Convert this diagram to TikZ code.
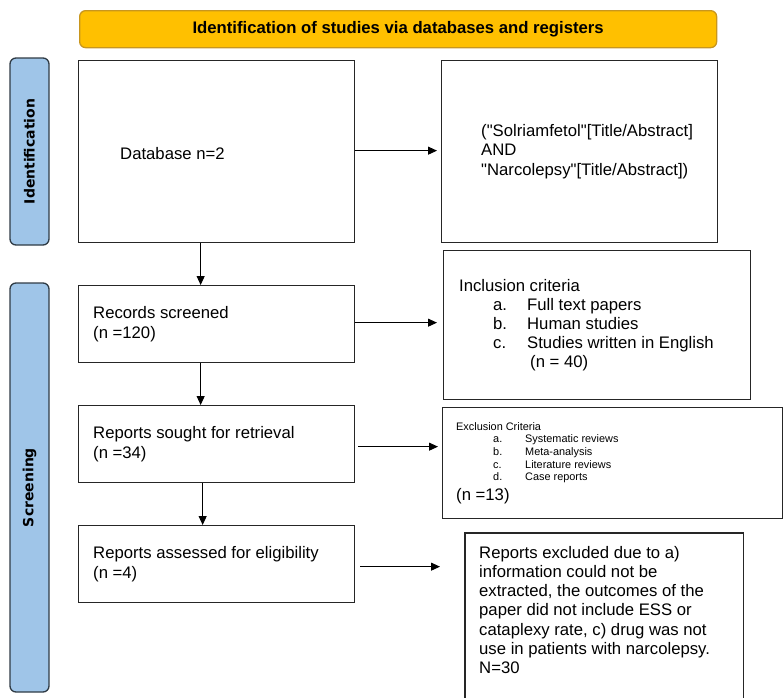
\documentclass[tikz,border=0pt]{standalone}
\usepackage{fontspec}
\setmainfont{Liberation Sans}[Ligatures=TeXOff]
\newfontfamily\sidefont{DejaVu Sans}
\usepackage{tikz}
\usetikzlibrary{arrows.meta}

\definecolor{headorange}{HTML}{FFC000}
\definecolor{headedge}{HTML}{C8961E}
\definecolor{sideblue}{HTML}{9FC5E8}
\definecolor{sideedge}{HTML}{2F3B45}

\newcommand{\boxfont}{\fontsize{16.7}{19.5}\selectfont}
\newcommand{\smallfont}{\fontsize{10.9}{12.6}\selectfont}

\begin{document}
\begin{tikzpicture}[x=1pt,y=-1pt,
  frame/.style={draw=black!85,line width=1.3pt,anchor=north west,inner sep=0pt},
  boxtext/.style={font=\boxfont,align=left,anchor=west,inner sep=0pt},
  sidebar/.style={draw=sideedge,fill=sideblue,line width=1.3pt,rounded corners=6pt,
    rotate=90,minimum height=39pt,inner sep=0pt,font=\sidefont\bfseries\fontsize{14}{16}\selectfont},
  flow/.style={-{Triangle[length=9pt,width=8pt]},line width=1pt},
]
\useasboundingbox (0,0) rectangle (784,697);

% heading bar
\node[draw=headedge,fill=headorange,line width=1.3pt,rounded corners=6pt,anchor=north west,
  minimum width=637pt,minimum height=37pt,font=\bfseries\fontsize{16.7}{19}\selectfont]
  (head) at (79,10) {Identification of studies via databases and registers};

% phases
\node[sidebar,minimum width=187pt] (ident) at (29.5,151.5) {Identification};
\node[sidebar,minimum width=409pt] (screen) at (29.5,487.5) {Screening};

% left column
\node[frame,minimum width=276pt,minimum height=182pt] (db) at (78,60) {};
\node[frame,minimum width=276pt,minimum height=77pt] (rs) at (78,285) {};
\node[frame,minimum width=276pt,minimum height=77pt] (rsr) at (78,405) {};
\node[frame,minimum width=276pt,minimum height=77pt] (rae) at (78,525) {};

\node[boxtext] (dbtext) at ([xshift=42pt,yshift=-2pt]db.west) {Database n=2};
\node[boxtext] (rstext) at ([xshift=15pt]rs.west) {Records screened\\(n =120)};
\node[boxtext] (rsrtext) at ([xshift=15pt]rsr.west) {Reports sought for retrieval\\(n =34)};
\node[boxtext] (raetext) at ([xshift=15pt]rae.west) {Reports assessed for eligibility\\(n =4)};

% right column
\node[frame,minimum width=276pt,minimum height=182pt] (query) at (441,60) {};
\node[frame,minimum width=307pt,minimum height=149pt] (incl) at (443,250) {};
\node[frame,minimum width=340pt,minimum height=111pt] (excl) at (442,407) {};
\node[frame,draw=none,minimum width=277pt,minimum height=170pt] (out) at (465,533) {};
\draw[black!85,line width=1.3pt] (out.south west) -- (out.north west) -- (out.north east) -- (out.south east);

\node[boxtext] (querytext) at ([xshift=40pt]query.west)
  {("Solriamfetol"[Title/Abstract]\\AND\\"Narcolepsy"[Title/Abstract])};
\node[boxtext,font=\fontsize{16.7}{19}\selectfont] (incltext) at ([xshift=16pt]incl.west)
  {Inclusion criteria\\
   \hspace*{34pt}\makebox[34pt][l]{a.}Full text papers\\
   \hspace*{34pt}\makebox[34pt][l]{b.}Human studies\\
   \hspace*{34pt}\makebox[34pt][l]{c.}Studies written in English\\
   \hspace*{71pt}(n = 40)};
\node[boxtext,font=\smallfont] (excltext) at ([xshift=14pt]excl.west)
  {Exclusion Criteria\\
   \hspace*{37pt}\makebox[32pt][l]{a.}Systematic reviews\\
   \hspace*{37pt}\makebox[32pt][l]{b.}Meta-analysis\\
   \hspace*{37pt}\makebox[32pt][l]{c.}Literature reviews\\
   \hspace*{37pt}\makebox[32pt][l]{d.}Case reports\\[4.5pt]
   {\boxfont (n =13)}};
\node[boxtext,anchor=north west,font=\fontsize{16.7}{19.2}\selectfont] (outtext) at (479,546)
  {Reports excluded due to a)\\
   information could not be\\
   extracted, the outcomes of the\\
   paper did not include ESS or\\
   cataplexy rate, c) drug was not\\
   use in patients with narcolepsy.\\
   N=30};

% connectors
\draw[flow] ([xshift=-16pt]db.south) -- ([xshift=-16pt]db.south |- rs.north);
\draw[flow] ([xshift=-16pt]rs.south) -- ([xshift=-16pt]rs.south |- rsr.north);
\draw[flow] ([xshift=-14pt]rsr.south) -- ([xshift=-14pt]rsr.south |- rae.north);
\draw[flow,shorten >=4pt] ([yshift=1pt]db.east) -- ([yshift=1pt]db.east -| query.west);
\draw[flow,shorten >=6pt] ([yshift=1.5pt]rs.east) -- ([yshift=1.5pt]rs.east -| incl.west);
\draw[flow,shorten <=3pt,shorten >=4pt] ([yshift=-2.5pt]rsr.east) -- ([yshift=-2.5pt]rsr.east -| excl.west);
\draw[flow,shorten <=5pt,shorten >=25pt] ([yshift=-2.5pt]rae.east) -- ([yshift=-2.5pt]rae.east -| out.west);

\end{tikzpicture}
\end{document}
